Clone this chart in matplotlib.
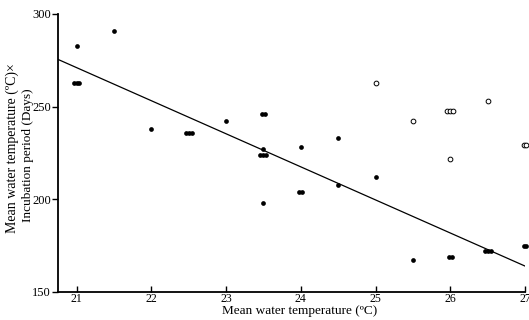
import matplotlib
matplotlib.use("Agg")
import matplotlib.pyplot as plt

# filled points (x read with the small side-by-side offsets of the original)
filled_x = [21.0, 20.97, 21.0, 21.03, 21.5, 22.0, 22.46, 22.5, 22.54,
            23.0, 23.48, 23.52, 23.5, 23.46, 23.5, 23.54, 23.5,
            23.98, 24.02, 24.0, 24.5, 24.5, 25.0, 25.5,
            25.98, 26.02, 26.46, 26.5, 26.54, 26.98, 27.02]
filled_y = [283, 263, 263, 263, 291, 238, 236, 236, 236,
            242, 246, 246, 227, 224, 224, 224, 198,
            204, 204, 228, 233, 208, 212, 167,
            169, 169, 172, 172, 172, 175, 175]

# open circles
open_x = [25.0, 25.5, 25.96, 26.0, 26.04, 26.0, 26.5, 26.98, 27.02]
open_y = [263, 242, 247.5, 247.5, 247.5, 222, 253, 229.5, 229.5]

# fitted line (end points)
line_x = [20.75, 27.0]
line_y = [275.5, 164.0]

plt.rcParams['font.family'] = ['Liberation Serif', 'DejaVu Serif']

fig = plt.figure(figsize=(5.29, 3.2), dpi=100)
ax = fig.add_axes([58 / 529, 1 - 292 / 320, (525 - 58) / 529, (292 - 14) / 320])

ax.plot(line_x, line_y, color='black', lw=0.9)
ax.plot(filled_x, filled_y, 'o', ms=3.4, color='black', mew=0, clip_on=False)
ax.plot(open_x, open_y, 'o', ms=3.4, mfc='white', mec='black', mew=0.7, clip_on=False)

ax.set_xlim(20.75, 27.0)
ax.set_ylim(150, 300)
ax.set_xticks([21, 22, 23, 24, 25, 26, 27])
ax.set_yticks([150, 200, 250, 300])

for s in ['top', 'right']:
    ax.spines[s].set_visible(False)
for s in ['left', 'bottom']:
    ax.spines[s].set_linewidth(1.3)

ax.tick_params(axis='x', direction='in', length=4, width=1, labelsize=8.5, pad=1)
ax.tick_params(axis='y', direction='out', length=4, width=1, labelsize=9, pad=1)

fig.text(300 / 529, 1 - 311 / 320, 'Mean water temperature (ºC)',
         ha='center', va='center', fontsize=9.5)
fig.text(12 / 529, 1 - 148 / 320, 'Mean water temperature (ºC)×',
         ha='center', va='center', rotation=90, fontsize=10)
fig.text(27.5 / 529, 1 - 155 / 320, 'Incubation period (Days)',
         ha='center', va='center', rotation=90, fontsize=9.5)

fig.savefig('out.png', dpi=100)
